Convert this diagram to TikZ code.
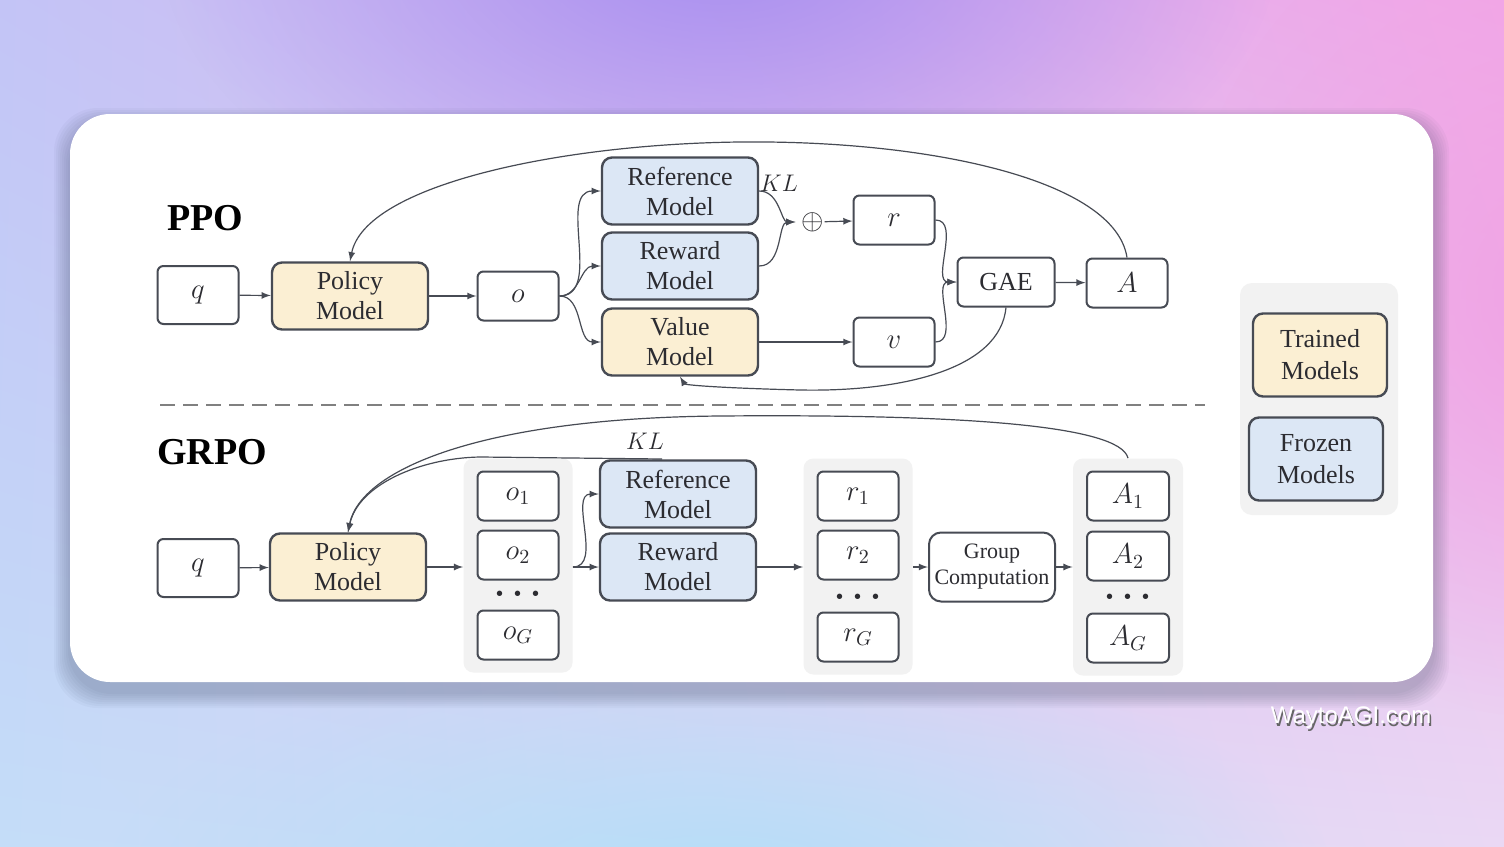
\documentclass[tikz,border=0pt]{standalone}
\usepackage{fontspec}
\setmainfont{Liberation Serif}
\newfontfamily\markfont{Liberation Sans}
\usetikzlibrary{fit,backgrounds,fadings,shadings}
\tikzfading[name=glow, inner color=transparent!0, outer color=transparent!100]
\definecolor{trainfill}{HTML}{FBEFD3}
\definecolor{frozenfill}{HTML}{DCE7F5}
\definecolor{boxline}{HTML}{474B54}
\definecolor{inkgray}{HTML}{2C2C31}
\definecolor{bgul}{HTML}{C3C4F6}
\definecolor{bgur}{HTML}{F2A8E8}
\definecolor{bgll}{HTML}{C4DDF8}
\definecolor{bglr}{HTML}{EAD8F4}
\definecolor{bgpurple}{HTML}{A68EF0}
\definecolor{bgblue}{HTML}{B2DEF8}
\definecolor{bgpink}{HTML}{F0A2E4}
\definecolor{shadowcol}{HTML}{3A4660}
\begin{document}
\begin{tikzpicture}
  [x=0.5pt, y=-0.5pt,
   >=latex,
   font=\fontsize{13}{15}\selectfont,
   text=inkgray,
   inner sep=0pt,
   box/.style={draw=boxline, line width=1pt, rounded corners=3pt, fill=white,
               minimum width=40.5pt, minimum height=24.5pt, font=\fontsize{14}{16}\selectfont},
   trained/.style={draw=boxline, line width=1.2pt, rounded corners=5pt, fill=trainfill,
                   minimum width=78pt, minimum height=33.5pt, align=center},
   frozen/.style={trained, fill=frozenfill},
   group/.style={fill=black!5, rounded corners=5pt, inner xsep=6.5pt, inner ysep=6pt},
   link/.style={->, draw=boxline, line width=0.6pt},
   title/.style={font=\fontsize{19}{22}\selectfont\bfseries, text=black},
   kl/.style={font=\fontsize{12}{14}\selectfont},
   dots/.style={font=\fontsize{16}{16}\selectfont},
   dashline/.style={draw=black!50, line width=1pt, dash pattern=on 7.5pt off 4pt}]
  \useasboundingbox (0,0) rectangle (1504,846);
  \begin{scope}[on background layer]
    \shade [upper left=bgul, upper right=bgur, lower left=bgll, lower right=bglr]
      (0,0) rectangle (1504,846);
    \fill [bgpurple, path fading=glow] (720,-60) ellipse [x radius=560, y radius=330];
    \fill [bgpink, path fading=glow] (1560,300) ellipse [x radius=380, y radius=420];
    \fill [bgblue, path fading=glow] (720,900) ellipse [x radius=620, y radius=260];
    \foreach \d in {2,4,...,16}
      \fill [shadowcol, opacity=0.04, rounded corners=22pt]
        (70-\d,114-\d+10) rectangle (1433+\d,682+\d+10);
    \fill [white, rounded corners=20pt] (70,114) rectangle (1433,682);
    \fill [black!5, rounded corners=6pt] (1240,283) rectangle (1398,515);
  \end{scope}

  % PPO
  \node at (205,218) (ppo) [title] {PPO};
  \node at (198,295) (q1) [box, minimum height=29pt] {$q$};
  \node at (350,296) (pol1) [trained] {Policy\\Model};
  \node at (518,296) (o) [box] {$o$};
  \node at (680,191) (ref1) [frozen] {Reference\\Model};
  \node at (680,266) (rwd1) [frozen] {Reward\\Model};
  \node at (680,342) (val) [trained] {Value\\Model};
  \node at (779,183) (kl1) [kl] {$KL$};
  \node at (813,222) (plus) [font=\fontsize{15}{16}\selectfont] {$\oplus$};
  \node at (894,220) (r) [box] {$r$};
  \node at (894,342) (v) [box] {$v$};
  \node at (1006,282) (gae) [box, minimum width=48.5pt, font=\fontsize{13}{15}\selectfont] {GAE};
  \node at (1127,283) (adv) [box] {$A$};
  \draw [link] (q1) -- (pol1);
  \draw [link] (pol1) -- (o);
  \draw [link] (o.east) to[out=0,in=180] (ref1.west);
  \draw [link] (o.east) to[out=0,in=180] (rwd1.west);
  \draw [link] (o.east) to[out=0,in=180] (val.west);
  \draw [link, shorten >=3pt] (ref1.east) to[out=0,in=180] (plus.west);
  \draw [link, shorten >=3pt] (rwd1.east) to[out=0,in=180] (plus.west);
  \draw [link] (plus) -- (r);
  \draw [link] (r.east) to[out=0,in=180] (gae.west);
  \draw [link] (v.east) to[out=0,in=180] (gae.west);
  \draw [link] (val) -- (v);
  \draw [link] (gae) -- (adv);
  \draw [link] (adv.north) .. controls (1115,180) and (930,140) .. (740,142)
    .. controls (560,144) and (365,185) .. (pol1.north);
  \draw [link] (gae.south) .. controls (1000,370) and (900,392) .. (800,390)
    .. controls (720,388) and (685,385) .. (val.south);

  \draw [dashline] (160,405) -- (1205,405);

  % GRPO
  \node at (212,452) (grpo) [title] {GRPO};
  \node at (198,568) (q2) [box, minimum height=29pt] {$q$};
  \node at (348,567) (pol2) [trained] {Policy\\Model};
  \node at (518,496) (o1) [box] {$o_1$};
  \node at (518,555) (o2) [box] {$o_2$};
  \node at (518,594) (odots) [dots] {{\boldmath$\cdots$}};
  \node at (518,635) (oG) [box] {$o_G$};
  \node at (678,494) (ref2) [frozen] {Reference\\Model};
  \node at (678,567) (rwd2) [frozen] {Reward\\Model};
  \node at (645,441) (kl2) [kl] {$KL$};
  \node at (858,496) (r1) [box] {$r_1$};
  \node at (858,555) (r2) [box] {$r_2$};
  \node at (858,597) (rdots) [dots] {{\boldmath$\cdots$}};
  \node at (858,637) (rG) [box] {$r_G$};
  \node at (992,567) (gc) [box, rounded corners=6pt, minimum width=63pt, minimum height=34.5pt,
    align=center, font=\fontsize{11}{13}\selectfont] {Group\\Computation};
  \node at (1128,496) (A1) [box, minimum width=41pt] {$A_1$};
  \node at (1128,556) (A2) [box, minimum width=41pt] {$A_2$};
  \node at (1128,597) (adots) [dots] {{\boldmath$\cdots$}};
  \node at (1128,638) (AG) [box, minimum width=41pt] {$A_G$};
  \begin{scope}[on background layer]
    \node (ogrp) [group, fit=(o1)(oG)] {};
    \node (rgrp) [group, fit=(r1)(rG)] {};
    \node (Agrp) [group, fit=(A1)(AG)] {};
  \end{scope}
  \coordinate (split) at (ogrp.east |- rwd2.west);
  \coordinate (kltap) at (662,459);
  \draw [link] (q2) -- (pol2);
  \draw [link] (pol2) -- (ogrp.west |- pol2.east);
  \draw [link] (split) to[out=0,in=180] (ref2.west);
  \draw [link] (split) -- (rwd2.west);
  \draw [link] (rwd2) -- (rgrp.west |- rwd2.east);
  \draw [link] (rgrp.east |- gc.west) -- (gc.west);
  \draw [link] (gc) -- (Agrp.west |- gc.east);
  \draw [link] (Agrp.north) .. controls (1120,425) and (960,414) .. (720,416)
    .. controls (480,418) and (360,470) .. (pol2.north);
  \draw [link] (kltap) -- (480,457) .. controls (420,458) and (358,485) .. (pol2.north);

  % legend
  \node at (1320,355) (trn) [trained, minimum width=67pt, minimum height=41.5pt,
    font=\fontsize{13}{16}\selectfont] {Trained\\Models};
  \node at (1316,459) (frz) [frozen, minimum width=67pt, minimum height=41.5pt,
    font=\fontsize{13}{16}\selectfont] {Frozen\\Models};

  \node at (1352.5,721) (wmshade) [font=\markfont\fontsize{12}{14}\selectfont, text=black!60] {WaytoAGI.com};
  \node at (1351,718) (wm) [font=\markfont\fontsize{12}{14}\selectfont, text=white] {WaytoAGI.com};
\end{tikzpicture}
\end{document}
